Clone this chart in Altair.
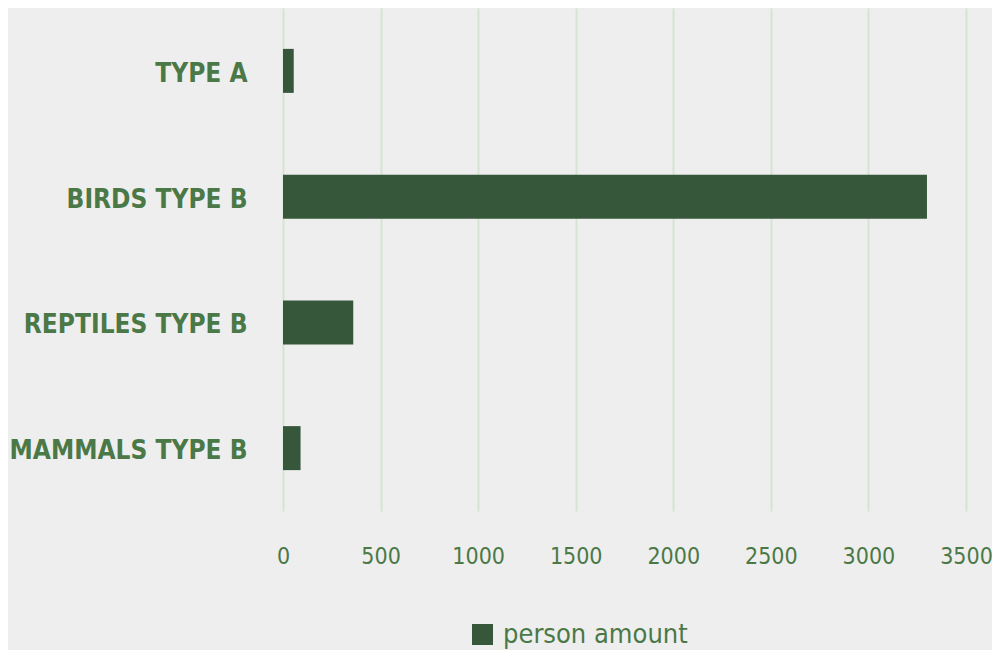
import altair as alt
import pandas as pd

categories = ["TYPE A", "BIRDS TYPE B", "REPTILES TYPE B", "MAMMALS TYPE B"]
values = [55, 3300, 360, 90]
series_name = "person amount"
x_ticks = [0, 500, 1000, 1500, 2000, 2500, 3000, 3500]

df = pd.DataFrame({"category": categories, "value": values, "series": [series_name] * len(categories)})

FONT = "DejaVu Sans Condensed"
TEXT = "#4a7847"
BAR = "#36573a"
GRID = "#d5e4d3"

chart = (
    alt.Chart(df)
    .mark_bar(size=44)
    .encode(
        y=alt.Y(
            "category:N",
            sort=categories,
            title=None,
            axis=alt.Axis(
                labelFont=FONT,
                labelFontSize=26,
                labelFontWeight="bold",
                labelColor=TEXT,
                labelPadding=36,
                labelOffset=3,
                ticks=False,
                domain=False,
                grid=False,
                labelLimit=400,
            ),
        ),
        x=alt.X(
            "value:Q",
            title=None,
            scale=alt.Scale(domain=[0, 3500], nice=False),
            axis=alt.Axis(
                values=x_ticks,
                format="d",
                labelFont=FONT,
                labelFontSize=23,
                labelColor=TEXT,
                labelPadding=34,
                ticks=False,
                domain=False,
                grid=True,
                gridColor=GRID,
                gridWidth=2,
                labelFlush=False,
            ),
        ),
        color=alt.Color(
            "series:N",
            scale=alt.Scale(range=[BAR]),
            legend=alt.Legend(
                title=None,
                orient="none",
                legendX=186,
                legendY=613,
                symbolType="square",
                symbolSize=441,
                symbolStrokeWidth=0,
                labelFont=FONT,
                labelFontSize=27,
                labelColor=TEXT,
                labelOffset=7,
                labelLimit=400,
            ),
        ),
    )
    .properties(
        width=683,
        height=503,
        background="#eeeeee",
        padding={"left": 275, "top": 0, "right": 26, "bottom": 139},
        autosize=alt.AutoSizeParams(type="none"),
    )
    .configure_view(stroke=None)
)

chart.save("out.html", embed_options={"renderer": "svg", "actions": False})
